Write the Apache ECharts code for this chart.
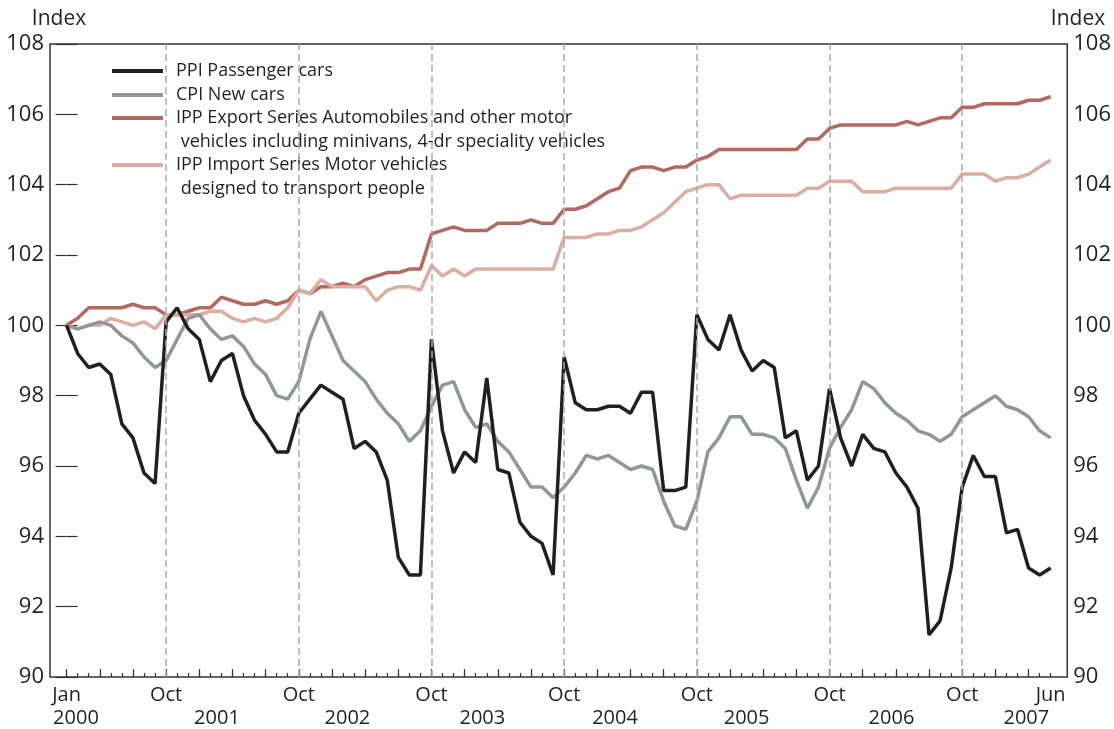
<!DOCTYPE html>
<html>
<head>
<meta charset="utf-8">
<script src="https://cdn.jsdelivr.net/npm/echarts@6/dist/echarts.min.js"></script>
<style>
  html, body { margin: 0; padding: 0; background: #fff; }
  #chart { width: 1114px; height: 729px; }
</style>
</head>
<body>
<div id="chart"></div>
<script>
// monthly index, Jan 2000 = 100, Jan 2000 .. Jun 2007
var ppi = [100.0, 99.2, 98.8, 98.9, 98.6, 97.2, 96.8, 95.8, 95.5, 100.1,
    100.5, 99.9, 99.6, 98.4, 99.0, 99.2, 98.0, 97.3, 96.9, 96.4,
    96.4, 97.5, 97.9, 98.3, 98.1, 97.9, 96.5, 96.7, 96.4, 95.6,
    93.4, 92.9, 92.9, 99.6, 97.0, 95.8, 96.4, 96.1, 98.5, 95.9,
    95.8, 94.4, 94.0, 93.8, 92.9, 99.1, 97.8, 97.6, 97.6, 97.7,
    97.7, 97.5, 98.1, 98.1, 95.3, 95.3, 95.4, 100.3, 99.6, 99.3,
    100.3, 99.3, 98.7, 99.0, 98.8, 96.8, 97.0, 95.6, 96.0, 98.2,
    96.8, 96.0, 96.9, 96.5, 96.4, 95.8, 95.4, 94.8, 91.2, 91.6,
    93.1, 95.4, 96.3, 95.7, 95.7, 94.1, 94.2, 93.1, 92.9, 93.1];

var cpi = [100.0, 99.9, 100.0, 100.1, 100.0, 99.7, 99.5, 99.1, 98.8, 99.0,
    99.6, 100.2, 100.3, 99.9, 99.6, 99.7, 99.4, 98.9, 98.6, 98.0,
    97.9, 98.4, 99.6, 100.4, 99.7, 99.0, 98.7, 98.4, 97.9, 97.5,
    97.2, 96.7, 97.0, 97.7, 98.3, 98.4, 97.6, 97.1, 97.2, 96.7,
    96.4, 95.9, 95.4, 95.4, 95.1, 95.4, 95.8, 96.3, 96.2, 96.3,
    96.1, 95.9, 96.0, 95.9, 95.0, 94.3, 94.2, 95.0, 96.4, 96.8,
    97.4, 97.4, 96.9, 96.9, 96.8, 96.5, 95.6, 94.8, 95.4, 96.5,
    97.1, 97.6, 98.4, 98.2, 97.8, 97.5, 97.3, 97.0, 96.9, 96.7,
    96.9, 97.4, 97.6, 97.8, 98.0, 97.7, 97.6, 97.4, 97.0, 96.8];

var ippExport = [100.0, 100.2, 100.5, 100.5, 100.5, 100.5, 100.6, 100.5, 100.5, 100.3,
    100.3, 100.4, 100.5, 100.5, 100.8, 100.7, 100.6, 100.6, 100.7, 100.6,
    100.7, 101.0, 100.9, 101.1, 101.1, 101.2, 101.1, 101.3, 101.4, 101.5,
    101.5, 101.6, 101.6, 102.6, 102.7, 102.8, 102.7, 102.7, 102.7, 102.9,
    102.9, 102.9, 103.0, 102.9, 102.9, 103.3, 103.3, 103.4, 103.6, 103.8,
    103.9, 104.4, 104.5, 104.5, 104.4, 104.5, 104.5, 104.7, 104.8, 105.0,
    105.0, 105.0, 105.0, 105.0, 105.0, 105.0, 105.0, 105.3, 105.3, 105.6,
    105.7, 105.7, 105.7, 105.7, 105.7, 105.7, 105.8, 105.7, 105.8, 105.9,
    105.9, 106.2, 106.2, 106.3, 106.3, 106.3, 106.3, 106.4, 106.4, 106.5];

var ippImport = [100.0, 99.9, 100.0, 100.0, 100.2, 100.1, 100.0, 100.1, 99.9, 100.3,
    100.3, 100.3, 100.3, 100.4, 100.4, 100.2, 100.1, 100.2, 100.1, 100.2,
    100.5, 101.0, 100.9, 101.3, 101.1, 101.1, 101.1, 101.1, 100.7, 101.0,
    101.1, 101.1, 101.0, 101.7, 101.4, 101.6, 101.4, 101.6, 101.6, 101.6,
    101.6, 101.6, 101.6, 101.6, 101.6, 102.5, 102.5, 102.5, 102.6, 102.6,
    102.7, 102.7, 102.8, 103.0, 103.2, 103.5, 103.8, 103.9, 104.0, 104.0,
    103.6, 103.7, 103.7, 103.7, 103.7, 103.7, 103.7, 103.9, 103.9, 104.1,
    104.1, 104.1, 103.8, 103.8, 103.8, 103.9, 103.9, 103.9, 103.9, 103.9,
    103.9, 104.3, 104.3, 104.3, 104.1, 104.2, 104.2, 104.3, 104.5, 104.7];

var seriesNames = [
    'PPI Passenger cars',
    'CPI New cars',
    'IPP Export Series Automobiles and other motor\n vehicles including minivans, 4-dr speciality vehicles',
    'IPP Import Series Motor vehicles\n designed to transport people'
];

// bottom axis labels (month index from Jan 2000)
var monthLabelAt = [0, 9, 21, 33, 45, 57, 69, 81, 89];
var monthLabels = ['Jan', 'Oct', 'Oct', 'Oct', 'Oct', 'Oct', 'Oct', 'Oct', 'Jun'];
var yearLabels = ['2000', '2001', '2002', '2003', '2004', '2005', '2006', '2007'];
var yearLabelAt = [0.85, 13.6, 25.4, 37.6, 49.6, 61.5, 74.6, 86.8];
var unitLabel = 'Index';

var colors = ['#231f20', '#939598', '#b3695f', '#dbaea4'];
var txt = '#231f20';
var font = 'Open Sans';

var nMonths = ppi.length;
var monthTicks = [], quarterTicks = [];
for (var i = 0; i < nMonths; i++) {
    monthTicks.push(i);
    if (i % 3 === 0) quarterTicks.push(i);
}

function pairs(arr) {
    return arr.map(function(v, i) { return [i, v]; });
}
function lookup(keys, vals) {
    return function(v) {
        for (var k = 0; k < keys.length; k++) {
            if (Math.abs(keys[k] - v) < 1e-6) return vals[k];
        }
        return '';
    };
}

var chart = echarts.init(document.getElementById('chart'));

var yAxisBase = {
    type: 'value',
    min: 90,
    max: 108,
    interval: 2,
    axisLine: { show: false },
    axisTick: { show: true, inside: true, length: 11, lineStyle: { color: '#333', width: 1.2 } },
    axisLabel: { color: txt, fontSize: 22, fontFamily: font, margin: 6 },
    splitLine: { show: false }
};

// legend and unit labels
var legendRows = [
    { y: 71, color: colors[0], lines: [seriesNames[0]] },
    { y: 95, color: colors[1], lines: [seriesNames[1]] },
    { y: 118, color: colors[2], lines: seriesNames[2].split('\n') },
    { y: 165, color: colors[3], lines: seriesNames[3].split('\n') }
];
var graphic = [];
legendRows.forEach(function(r) {
    graphic.push({
        type: 'line',
        shape: { x1: 112, y1: r.y, x2: 163, y2: r.y },
        style: { stroke: r.color, lineWidth: 4 }
    });
    r.lines.forEach(function(t, k) {
        graphic.push({
            type: 'text',
            x: 176, y: r.y + k * 23.5,
            style: { text: t, fill: txt, font: '18px "' + font + '"', verticalAlign: 'middle' }
        });
    });
});
[59, 1078].forEach(function(cx) {
    graphic.push({
        type: 'text',
        x: cx, y: 19,
        style: { text: unitLabel, fill: txt, font: '21px "' + font + '"', align: 'center', verticalAlign: 'middle' }
    });
});

var option = {
    animation: false,
    backgroundColor: '#fff',
    grid: {
        left: 50, right: 46, top: 44, bottom: 52,
        show: true, borderColor: '#333', borderWidth: 1.5
    },
    xAxis: [{
        type: 'value',
        min: -1.5,
        max: 90.5,
        axisLine: { show: false },
        splitLine: { show: false },
        axisTick: {
            show: true, inside: true, length: 4,
            customValues: monthTicks,
            lineStyle: { color: '#333', width: 1.2 }
        },
        axisLabel: {
            customValues: monthLabelAt,
            formatter: lookup(monthLabelAt, monthLabels),
            color: txt, fontSize: 20, fontFamily: font, margin: 8
        }
    }, {
        type: 'value',
        position: 'bottom',
        min: -1.5,
        max: 90.5,
        axisLine: { show: false },
        splitLine: { show: false },
        axisTick: {
            show: true, inside: true, length: 8,
            customValues: quarterTicks,
            lineStyle: { color: '#333', width: 1.2 }
        },
        axisLabel: {
            customValues: yearLabelAt,
            formatter: lookup(yearLabelAt, yearLabels),
            color: txt, fontSize: 20, fontFamily: font, margin: 31
        }
    }],
    yAxis: [
        Object.assign({}, yAxisBase, { position: 'left' }),
        Object.assign({}, yAxisBase, { position: 'right' })
    ],
    graphic: graphic,
    series: [{
        name: seriesNames[2],
        type: 'line',
        data: pairs(ippExport),
        showSymbol: false,
        lineStyle: { color: colors[2], width: 3.5 },
        markLine: {
            silent: true,
            symbol: 'none',
            label: { show: false },
            lineStyle: { color: '#a9abae', type: [7, 4], width: 1.5 },
            data: monthLabelAt.slice(1, -1).map(function(m) { return { xAxis: m }; })
        }
    }, {
        name: seriesNames[3],
        type: 'line',
        data: pairs(ippImport),
        showSymbol: false,
        lineStyle: { color: colors[3], width: 3.5 }
    }, {
        name: seriesNames[1],
        type: 'line',
        data: pairs(cpi),
        showSymbol: false,
        lineStyle: { color: colors[1], width: 3.5 }
    }, {
        name: seriesNames[0],
        type: 'line',
        data: pairs(ppi),
        showSymbol: false,
        lineStyle: { color: colors[0], width: 3.5 }
    }]
};

chart.setOption(option);
</script>
</body>
</html>
